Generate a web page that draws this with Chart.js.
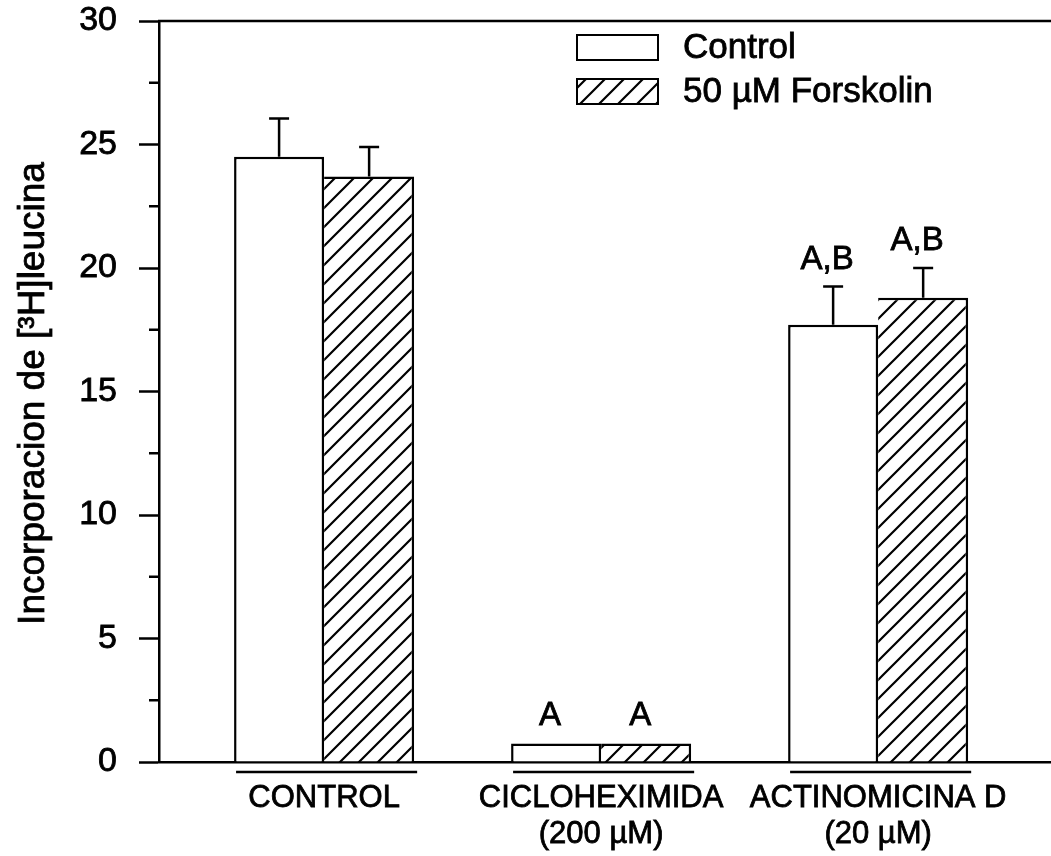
<!DOCTYPE html>
<html>
<head>
<meta charset="utf-8">
<script src="https://cdn.jsdelivr.net/npm/chart.js@4.4.1/dist/chart.umd.min.js"></script>
<style>
  html, body { margin: 0; padding: 0; background: #fff; }
  canvas { display: block; }
</style>
</head>
<body>
<canvas id="chart" width="1051" height="856"></canvas>
<script>
// Treatment groups (multi-line axis labels)
const groupLabels = [['CONTROL'], ['CICLOHEXIMIDA', '(200 µM)'], ['ACTINOMICINA D', '(20 µM)']];
// Series names
const seriesNames = ['Control', '50 µM Forskolin'];
// Mean values and their error (upper bar only)
const controlValues = [24.5, 0.75, 17.7];
const controlErrors = [1.55, 0, 1.55];
const forskolinValues = [23.7, 0.75, 18.8];
const forskolinErrors = [1.2, 0, 1.2];
// Significance letters above each bar
const controlMarks = ['', 'A', 'A,B'];
const forskolinMarks = ['', 'A', 'A,B'];
// Value axis
const yTicks = [0, 5, 10, 15, 20, 25, 30];
const yTitle = 'Incorporacion de [³H]leucina';

const FONT = '"Liberation Sans", Arial, Helvetica, sans-serif';
const INK = '#000';
const LINE = 2.5;
const TEXT_STROKE = 0.8;

const canvas = document.getElementById('chart');
const ctx = canvas.getContext('2d');

// Diagonal "/" hatch fill
function makeHatch() {
  const s = 19;
  const c = document.createElement('canvas');
  c.width = s; c.height = s;
  const g = c.getContext('2d');
  g.fillStyle = '#fff';
  g.fillRect(0, 0, s, s);
  g.strokeStyle = INK;
  g.lineWidth = 2.2;
  g.beginPath();
  g.moveTo(-2, s + 2); g.lineTo(s + 2, -2);
  g.moveTo(-2, 2); g.lineTo(2, -2);
  g.moveTo(s - 2, s + 2); g.lineTo(s + 2, s - 2);
  g.stroke();
  return ctx.createPattern(c, 'repeat');
}
const hatch = makeHatch();

function inkText(c, text, x, y) {
  c.fillText(text, x, y);
  c.strokeText(text, x, y);
}

// Frame: top border line, minor ticks and the value-axis title
const framePlugin = {
  id: 'frame',
  afterDraw(chart, args, opts) {
    const { ctx, chartArea } = chart;
    const y = chart.scales.y;
    ctx.save();
    ctx.strokeStyle = INK;
    ctx.lineWidth = LINE;
    ctx.beginPath();
    ctx.moveTo(chartArea.left - 1, chartArea.top);
    ctx.lineTo(chart.width, chartArea.top);
    for (let i = 0; i < yTicks.length - 1; i++) {
      const py = y.getPixelForValue((yTicks[i] + yTicks[i + 1]) / 2);
      ctx.moveTo(chartArea.left - 10, py);
      ctx.lineTo(chartArea.left, py);
    }
    ctx.stroke();

    // rotated axis title
    ctx.translate(opts.titleX, (chartArea.top + chartArea.bottom) / 2 + 2);
    ctx.rotate(-Math.PI / 2);
    ctx.font = opts.titleSize + 'px ' + FONT;
    ctx.textAlign = 'center';
    ctx.textBaseline = 'middle';
    ctx.fillStyle = INK;
    ctx.lineWidth = TEXT_STROKE;
    inkText(ctx, yTitle, 0, 0);
    ctx.restore();
  }
};

// Error bars, significance letters and group underlines
const errorPlugin = {
  id: 'errors',
  afterDatasetsDraw(chart) {
    const { ctx, chartArea } = chart;
    const ys = chart.scales.y;
    const series = [
      { values: controlValues, errors: controlErrors, marks: controlMarks },
      { values: forskolinValues, errors: forskolinErrors, marks: forskolinMarks }
    ];
    ctx.save();
    ctx.strokeStyle = INK;
    ctx.fillStyle = INK;
    series.forEach((s, d) => {
      const meta = chart.getDatasetMeta(d);
      meta.data.forEach((bar, j) => {
        const top = ys.getPixelForValue(s.values[j] + s.errors[j]);
        if (s.errors[j] > 0) {
          ctx.lineWidth = LINE;
          ctx.beginPath();
          ctx.moveTo(bar.x, bar.y);
          ctx.lineTo(bar.x, top);
          ctx.moveTo(bar.x - 10, top);
          ctx.lineTo(bar.x + 10, top);
          ctx.stroke();
        }
        if (s.marks[j]) {
          ctx.font = '33px ' + FONT;
          ctx.textAlign = 'center';
          ctx.textBaseline = 'alphabetic';
          ctx.lineWidth = TEXT_STROKE;
          inkText(ctx, s.marks[j], bar.x - 6, top - 18);
        }
      });
    });
    // underline beneath each group of bars
    const m0 = chart.getDatasetMeta(0), m1 = chart.getDatasetMeta(1);
    ctx.lineWidth = LINE;
    ctx.beginPath();
    groupLabels.forEach((_, j) => {
      const a = m0.data[j], b = m1.data[j];
      ctx.moveTo(a.x - a.width / 2 + 2, chartArea.bottom + 10);
      ctx.lineTo(b.x + b.width / 2 + 3, chartArea.bottom + 10);
    });
    ctx.stroke();
    ctx.restore();
  }
};

// Legend drawn inside the plot frame
const legendPlugin = {
  id: 'boxLegend',
  afterDraw(chart, args, opts) {
    const { ctx } = chart;
    ctx.save();
    ctx.font = opts.fontSize + 'px ' + FONT;
    ctx.textBaseline = 'middle';
    ctx.textAlign = 'left';
    chart.data.datasets.forEach((ds, i) => {
      const y = opts.top + i * opts.rowGap;
      ctx.fillStyle = ds.backgroundColor;
      ctx.fillRect(opts.left, y, opts.boxW, opts.boxH);
      ctx.strokeStyle = INK;
      ctx.lineWidth = 2;
      ctx.strokeRect(opts.left, y, opts.boxW, opts.boxH);
      ctx.fillStyle = INK;
      ctx.lineWidth = TEXT_STROKE;
      inkText(ctx, ds.label, opts.left + opts.boxW + opts.gap, y + opts.boxH / 2 + 1);
    });
    ctx.restore();
  }
};

new Chart(canvas, {
  type: 'bar',
  data: {
    datasets: [
      {
        label: seriesNames[0],
        data: controlValues.map((v, i) => ({ x: i, y: v })),
        backgroundColor: '#fff',
        borderColor: INK,
        borderWidth: LINE,
        borderSkipped: 'start',
        categoryPercentage: 0.65,
        barPercentage: 1
      },
      {
        label: seriesNames[1],
        data: forskolinValues.map((v, i) => ({ x: i, y: v })),
        backgroundColor: hatch,
        borderColor: INK,
        borderWidth: { top: LINE, right: LINE, left: 0, bottom: 0 },
        borderSkipped: 'start',
        categoryPercentage: 0.65,
        barPercentage: 1
      }
    ]
  },
  options: {
    responsive: false,
    animation: false,
    events: [],
    layout: { padding: { top: 21, left: 0, right: 0, bottom: 0 } },
    scales: {
      x: {
        type: 'linear',
        min: -0.596,
        max: 2.624,
        offset: false,
        afterBuildTicks: s => { s.ticks = groupLabels.map((_, i) => ({ value: i })); },
        afterFit: s => { s.height = 94; s.paddingLeft = 0; s.paddingRight = 0; },
        grid: { display: false, drawTicks: false, offset: false },
        border: { display: true, color: INK, width: LINE },
        ticks: {
          autoSkip: false,
          maxRotation: 0,
          padding: 18,
          color: INK,
          textStrokeColor: INK,
          textStrokeWidth: TEXT_STROKE,
          font: { family: FONT, size: 31, lineHeight: 1.17 },
          callback: v => groupLabels[v]
        }
      },
      y: {
        min: yTicks[0],
        max: yTicks[yTicks.length - 1],
        afterBuildTicks: s => { s.ticks = yTicks.map(v => ({ value: v })); },
        afterFit: s => { s.width = 159; s.paddingTop = 0; s.paddingBottom = 0; },
        grid: { drawOnChartArea: false, drawTicks: true, tickLength: 20, tickWidth: LINE, tickColor: INK },
        border: { display: true, color: INK, width: LINE },
        ticks: {
          color: INK,
          padding: 22,
          textStrokeColor: INK,
          textStrokeWidth: TEXT_STROKE,
          font: { family: FONT, size: 34 }
        },
        title: { display: false }
      }
    },
    plugins: {
      legend: { display: false },
      tooltip: { enabled: false },
      frame: { titleX: 34, titleSize: 37 },
      boxLegend: { left: 577, top: 35, boxW: 81, boxH: 25, rowGap: 44, gap: 25, fontSize: 35 }
    }
  },
  plugins: [framePlugin, errorPlugin, legendPlugin]
});
</script>
</body>
</html>
